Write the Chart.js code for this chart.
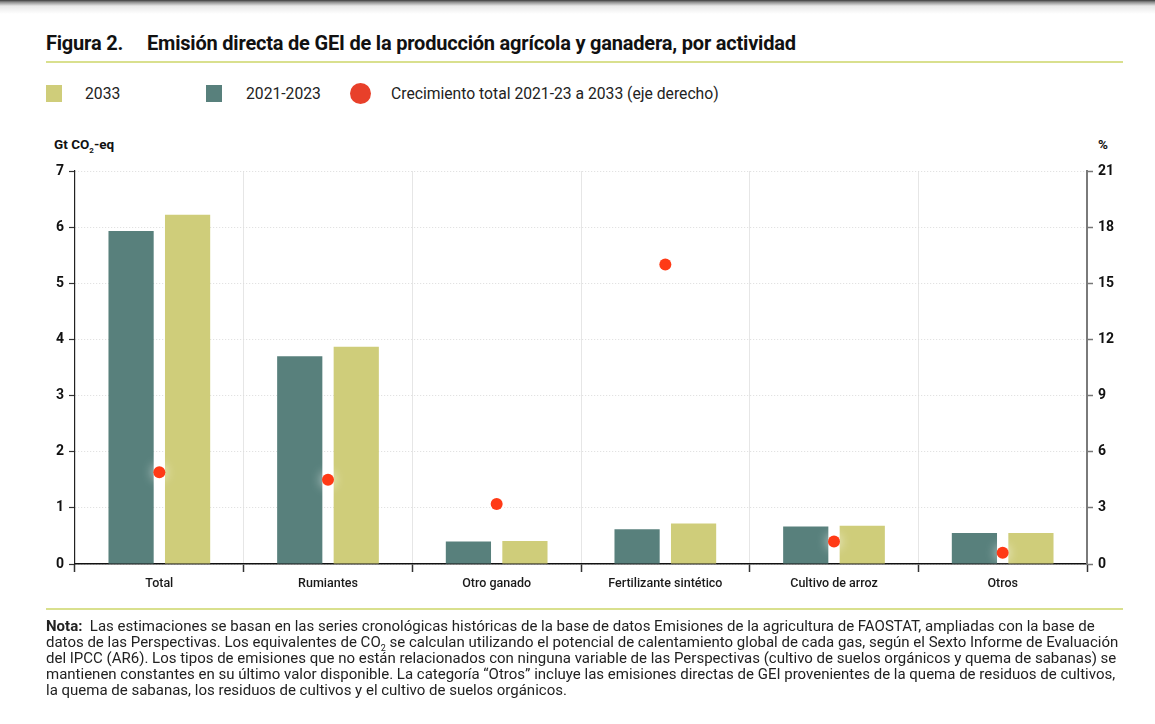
<!DOCTYPE html>
<html><head><meta charset="utf-8">
<script src="https://cdn.jsdelivr.net/npm/chart.js@4/dist/chart.umd.min.js"></script>
<style>
html,body{margin:0;padding:0;background:#fff;width:1155px;height:724px;overflow:hidden;font-family:Roboto,"Liberation Sans",sans-serif;color:#1a1a1a;}
#topbar{position:absolute;left:0;top:0;width:1155px;height:14px;background:linear-gradient(#3a3a3a 0px,#8a8a8a 2px,#e8e8e8 6px,#fff 14px);}
#title{position:absolute;left:46px;top:31px;font-size:20px;font-weight:700;white-space:nowrap;color:#111;letter-spacing:-0.2px;}
#title .fig{display:inline-block;width:101px;}
.rule{position:absolute;left:46px;width:1077px;height:2px;background:#d9e08e;}
.leg{position:absolute;top:84px;font-size:15.7px;white-space:nowrap;color:#222;}
.sq{position:absolute;width:16px;height:17px;}
.dot{position:absolute;width:21px;height:21px;border-radius:50%;background:#e8402a;}
.axt{position:absolute;top:136px;font-size:13.5px;font-weight:700;color:#111;white-space:nowrap;}
#note{position:absolute;left:46px;top:618px;font-size:15px;line-height:16px;color:#222;white-space:nowrap;}
canvas{position:absolute;left:0;top:0;}
</style></head>
<body>
<div id="topbar"></div>
<div id="title"><span class="fig">Figura 2.</span>Emisión directa de GEI de la producción agrícola y ganadera, por actividad</div>
<div class="rule" style="top:61px"></div>
<div class="sq" style="left:46px;top:85px;background:#cfcd7a"></div>
<div class="leg" style="left:85px">2033</div>
<div class="sq" style="left:206px;top:85px;background:#58807c"></div>
<div class="leg" style="left:246px">2021-2023</div>
<div class="dot" style="left:350px;top:83px"></div>
<div class="leg" style="left:391px">Crecimiento total 2021-23 a 2033 (eje derecho)</div>
<div class="axt" style="left:54px">Gt CO<sub style="font-size:8px">2</sub>-eq</div>
<div class="axt" style="left:1098px">%</div>
<canvas id="c" width="1155" height="724"></canvas>
<div class="rule" style="top:608px"></div>
<div id="note"><b>Nota:</b>&nbsp; Las estimaciones se basan en las series cronológicas históricas de la base de datos Emisiones de la agricultura de FAOSTAT, ampliadas con la base de<br>datos de las Perspectivas. Los equivalentes de CO<sub style="font-size:9px;line-height:0">2</sub> se calculan utilizando el potencial de calentamiento global de cada gas, según el Sexto Informe de Evaluación<br>del IPCC (AR6). Los tipos de emisiones que no están relacionados con ninguna variable de las Perspectivas (cultivo de suelos orgánicos y quema de sabanas) se<br>mantienen constantes en su último valor disponible. La categoría “Otros” incluye las emisiones directas de GEI provenientes de la quema de residuos de cultivos,<br>la quema de sabanas, los residuos de cultivos y el cultivo de suelos orgánicos.</div>
<script>
const categories = ['Total','Rumiantes','Otro ganado','Fertilizante sintético','Cultivo de arroz','Otros'];
const values2021_2023 = [5.93, 3.70, 0.40, 0.62, 0.67, 0.55];
const values2033 = [6.22, 3.87, 0.41, 0.72, 0.68, 0.55];
const growthPct = [4.9, 4.5, 3.2, 16.0, 1.2, 0.6];
const leftTicks = [0,1,2,3,4,5,6,7];
const rightTicks = [0,3,6,9,12,15,18,21];

const glow = {
  id:'glow',
  beforeDatasetDraw(chart,args){ if(args.index===0){ const c=chart.ctx; c.save(); c.shadowColor='rgba(255,255,255,0.95)'; c.shadowBlur=12; } },
  afterDatasetDraw(chart,args){ if(args.index===0){ chart.ctx.restore(); } }
};

new Chart(document.getElementById('c'), {
  type:'bar',
  data:{
    labels: categories,
    datasets:[
      {type:'line', label:'Crecimiento total 2021-23 a 2033 (eje derecho)', data: growthPct, yAxisID:'y1', showLine:false,
       pointRadius:6, pointHoverRadius:6, pointBackgroundColor:'#ff3a16', pointBorderWidth:0, borderColor:'#ff3a16', order:0},
      {label:'2021-2023', data: values2021_2023, backgroundColor:'#58807c', yAxisID:'y', order:1,
       categoryPercentage:0.67, barPercentage:0.8},
      {label:'2033', data: values2033, backgroundColor:'#cfcd7a', yAxisID:'y', order:1,
       categoryPercentage:0.67, barPercentage:0.8}
    ]
  },
  options:{
    responsive:false, animation:false, devicePixelRatio:1,
    layout:{padding:{top:171,left:0,right:0,bottom:0}},
    plugins:{legend:{display:false}, tooltip:{enabled:false}},
    scales:{
      x:{
        grid:{color:'#e6e6e6', lineWidth:1, tickLength:8, tickColor:'#333', tickWidth:1.5, offset:true},
        border:{color:'#111', width:1.5},
        ticks:{color:'#1a1a1a', font:{family:'Roboto', size:12.5, weight:'500'}, padding:4, maxRotation:0},
        afterFit(s){ s.height = 160; }
      },
      y:{
        position:'left', min:0, max:7,
        afterBuildTicks(s){ s.ticks = leftTicks.map(v=>({value:v})); },
        grid:{color:'#dcdcdc', lineWidth:1, tickLength:6, tickColor:'#333', tickBorderDash:[], tickWidth:1.2},
        border:{color:'#222', width:1.2, dash:[1,2]},
        ticks:{color:'#111', font:{family:'Roboto', size:14, weight:'700'}, padding:5},
        afterFit(s){ s.width = 75; }
      },
      y1:{
        position:'right', min:0, max:21,
        afterBuildTicks(s){ s.ticks = rightTicks.map(v=>({value:v})); },
        grid:{drawOnChartArea:false, tickLength:6, tickColor:'#777', tickWidth:1.5},
        border:{color:'#7a7a7a', width:2},
        ticks:{color:'#111', font:{family:'Roboto', size:14, weight:'700'}, padding:5},
        afterFit(s){ s.width = 68; }
      }
    }
  },
  plugins:[glow]
});
</script>
</body></html>
